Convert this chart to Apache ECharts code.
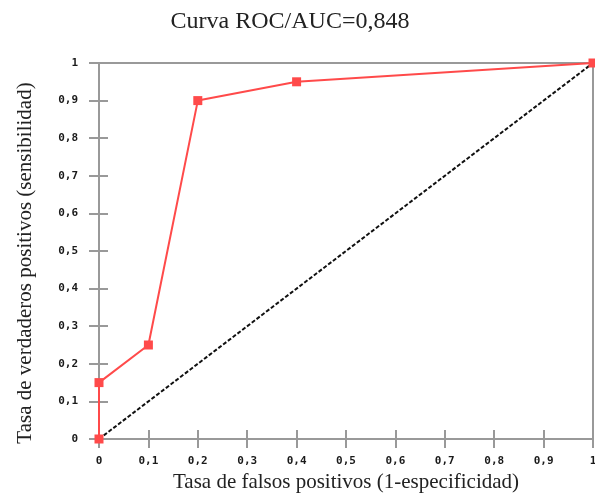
<!DOCTYPE html>
<html><head><meta charset="utf-8">
<script src="https://cdn.jsdelivr.net/npm/echarts@6/dist/echarts.min.js"></script>
<style>html,body{margin:0;padding:0;background:#fff}#c{width:595px;height:496px}</style>
</head><body><div id="c"></div>
<script>
const titleText = 'Curva ROC/AUC=0,848';
const xName = 'Tasa de falsos positivos (1-especificidad)';
const yName = 'Tasa de verdaderos positivos (sensibilidad)';
const fpr = [0, 0, 0.1, 0.2, 0.4, 1];
const tpr = [0, 0.15, 0.25, 0.9, 0.95, 1];
const diagX = [0, 1];
const diagY = [0, 1];

const fmt = v => String(Math.round(v * 10) / 10).replace('.', ',');
const serif = '"Liberation Serif", "DejaVu Serif", serif';
const labelStyle = {color: '#1a1a1a', fontFamily: '"DejaVu Sans Mono", monospace', fontSize: 11, fontWeight: 'bold', formatter: fmt};
const axisGray = '#999';

const chart = echarts.init(document.getElementById('c'), null, {renderer: 'canvas'});
chart.setOption({
  animation: false,
  backgroundColor: '#fff',
  grid: {left: 99, right: 2, top: 63, bottom: 57, show: true, borderColor: axisGray, borderWidth: 2,
         containLabel: false, outerBoundsMode: 'none'},
  xAxis: [
    {type: 'value', min: 0, max: 1, interval: 0.1, position: 'bottom',
     axisLine: {lineStyle: {color: axisGray, width: 2}},
     axisTick: {show: true, inside: false, length: 9, lineStyle: {color: axisGray, width: 2}},
     axisLabel: Object.assign({margin: 17}, labelStyle),
     splitLine: {show: false}},
    {type: 'value', min: 0, max: 1, interval: 0.1, position: 'bottom',
     axisLine: {show: false},
     axisTick: {show: true, inside: true, length: 9, lineStyle: {color: axisGray, width: 2}},
     axisLabel: {show: false}, splitLine: {show: false}}
  ],
  yAxis: [
    {type: 'value', min: 0, max: 1, interval: 0.1, position: 'left',
     axisLine: {show: true, lineStyle: {color: axisGray, width: 2}},
     axisTick: {show: true, inside: false, length: 10, lineStyle: {color: axisGray, width: 2}},
     axisLabel: Object.assign({margin: 21}, labelStyle),
     splitLine: {show: false}},
    {type: 'value', min: 0, max: 1, interval: 0.1, position: 'left',
     axisLine: {show: false},
     axisTick: {show: true, inside: true, length: 9, lineStyle: {color: axisGray, width: 2}},
     axisLabel: {show: false}, splitLine: {show: false}}
  ],
  graphic: [
    {type: 'text', x: 290, y: 22,
     style: {text: titleText, font: '24px ' + serif, fill: '#222', align: 'center', verticalAlign: 'middle'}},
    {type: 'text', x: 346, y: 482,
     style: {text: xName, font: '21px ' + serif, fill: '#222', align: 'center', verticalAlign: 'middle'}},
    {type: 'text', rotation: Math.PI / 2, x: 25, y: 263,
     style: {text: yName, font: '21px ' + serif, fill: '#222', align: 'center', verticalAlign: 'middle'}}
  ],
  series: [
    {type: 'line', data: diagX.map((x, i) => [x, diagY[i]]), showSymbol: false, symbol: 'none',
     lineStyle: {color: '#111', width: 2, type: [4, 2]}, z: 2},
    {type: 'line', data: fpr.map((x, i) => [x, tpr[i]]), symbol: 'rect', symbolSize: 9,
     itemStyle: {color: '#ff4a4a'}, lineStyle: {color: '#ff4a4a', width: 2}, z: 3, clip: false}
  ]
});
</script></body></html>
